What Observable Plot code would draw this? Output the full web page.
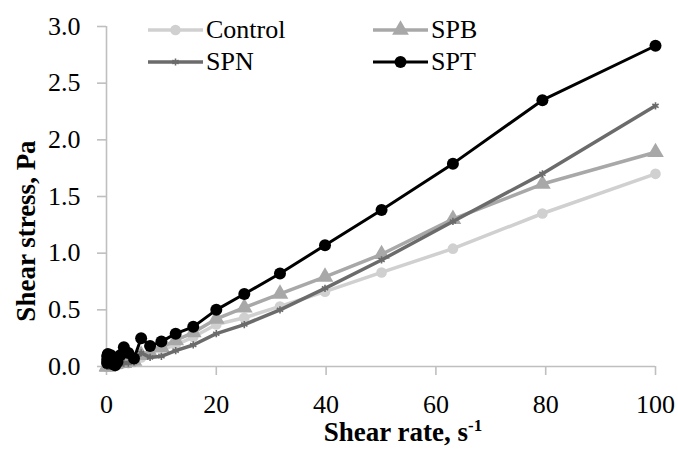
<!DOCTYPE html>
<html>
<head>
<meta charset="utf-8">
<script src="https://cdn.jsdelivr.net/npm/d3@7"></script>
<script src="https://cdn.jsdelivr.net/npm/@observablehq/plot@0.6"></script>
<style>
  html, body { margin: 0; padding: 0; background: #fff; }
  #wrap { position: relative; width: 678px; height: 450px; font-family: 'Liberation Serif', 'Times New Roman', Times, 'Nimbus Roman', 'DejaVu Serif', serif; }
  #wrap svg.plot { position: absolute; left: 0; top: 0; }
  #wrap svg.plot text { font-family: 'Liberation Serif', 'Times New Roman', Times, 'Nimbus Roman', 'DejaVu Serif', serif; }
  .ttl { position: absolute; font-weight: bold; font-size: 27px; white-space: nowrap; line-height: 1; color: #000; }
  .leg { position: absolute; display: flex; align-items: center; font-size: 26px; line-height: 1; white-space: nowrap; }
  .leg svg { display: block; margin-right: 3px; }
</style>
</head>
<body>
<div id="wrap"></div>
<script>
// Shear rate (s^-1), logarithmically spaced sweep
const shearRate = [0.1, 0.126, 0.158, 0.2, 0.251, 0.316, 0.398, 0.501, 0.631, 0.794,
  1, 1.26, 1.58, 2, 2.51, 3.16, 3.98, 5.01, 6.31, 7.94,
  10, 12.6, 15.8, 20, 25.1, 31.6, 39.8, 50.1, 63.1, 79.4, 100];
// Shear stress (Pa)
const control = [0, 0, 0, 0, 0, 0, 0, 0, 0, 0.01,
  0.01, 0.01, 0.02, 0.02, 0.02, 0.03, 0.03, 0.04, 0.08, 0.11,
  0.15, 0.19, 0.26, 0.37, 0.43, 0.53, 0.66, 0.83, 1.04, 1.35, 1.70];
const spb = [0, 0, 0, 0, 0, 0, 0.01, 0.01, 0.01, 0.01,
  0.02, 0.02, 0.02, 0.03, 0.03, 0.03, 0.04, 0.05, 0.10, 0.12,
  0.17, 0.23, 0.30, 0.42, 0.52, 0.64, 0.79, 0.99, 1.30, 1.61, 1.89];
const spn = [0, 0, 0, 0, 0, 0, 0, 0, 0, 0,
  0.01, 0.01, 0.01, 0.02, 0.02, 0.03, 0.03, 0.04, 0.12, 0.08,
  0.09, 0.14, 0.19, 0.29, 0.37, 0.50, 0.69, 0.94, 1.28, 1.70, 2.30];
const spt = [0.03, 0.06, 0.09, 0.10, 0.11, 0.10, 0.08, 0.06, 0.09, 0.10,
  0.06, 0.02, 0.01, 0.04, 0.10, 0.17, 0.12, 0.07, 0.25, 0.18,
  0.22, 0.29, 0.35, 0.50, 0.64, 0.82, 1.07, 1.38, 1.79, 2.35, 2.83];

const xTicks = [0, 20, 40, 60, 80, 100];
const yTicks = [0, 0.5, 1.0, 1.5, 2.0, 2.5, 3.0];

const seriesNames = ["Control", "SPB", "SPN", "SPT"];
const seriesValues = [control, spb, spn, spt];
const seriesColors = ["#d0d0d0", "#a8a8a8", "#6b6b6b", "#000000"];
const seriesSymbols = ["circle", "triangle", "asterisk", "circle"];
const seriesR = [5.3, 6.2, 3.4, 6];
const seriesWidth = [3.5, 3.5, 3.5, 3];

const series = seriesNames.map((name, i) => ({
  name, color: seriesColors[i], symbol: seriesSymbols[i], r: seriesR[i], w: seriesWidth[i],
  data: shearRate.map((x, j) => ({x, y: seriesValues[i][j]}))
}));

const FONT = "'Liberation Serif', 'Times New Roman', Times, 'Nimbus Roman', 'DejaVu Serif', serif";

const marks = [
  Plot.ruleY([0], {stroke: "#bfbfbf", strokeWidth: 1.6}),
  Plot.ruleX([0], {stroke: "#bfbfbf", strokeWidth: 1.6}),
  Plot.axisX({ticks: xTicks, tickSize: 9, tickPadding: 19, stroke: "#bfbfbf", strokeWidth: 1.6, fill: "#000", fontSize: 26, fontFamily: FONT, label: null, tickFormat: d3.format("d")}),
  Plot.axisY({ticks: yTicks, tickSize: 9, tickPadding: 17, stroke: "#bfbfbf", strokeWidth: 1.6, fill: "#000", fontSize: 26, fontFamily: FONT, label: null, tickFormat: d3.format(".1f")})
];
for (const s of series) {
  marks.push(Plot.line(s.data, {x: "x", y: "y", stroke: s.color, strokeWidth: s.w}));
  if (s.symbol === "asterisk") {
    marks.push(Plot.dot(s.data, {x: "x", y: "y", symbol: "asterisk", r: s.r, stroke: s.color, strokeWidth: 1.6}));
  } else {
    marks.push(Plot.dot(s.data, {x: "x", y: "y", symbol: s.symbol, r: s.r, fill: s.color, stroke: "none"}));
  }
}

const chart = Plot.plot({
  width: 678,
  height: 450,
  marginLeft: 106,
  marginRight: 23,
  marginTop: 26,
  marginBottom: 84,
  x: {domain: [0, 100], axis: null},
  y: {domain: [0, 3], axis: null},
  style: {fontFamily: FONT, fontSize: "26px", background: "#fff", color: "#000"},
  marks
});
chart.classList.add("plot");
const wrap = document.getElementById("wrap");
wrap.appendChild(chart);

// Axis titles
const xt = document.createElement("div");
xt.className = "ttl";
xt.innerHTML = "Shear rate, s<sup style='font-size:17px;vertical-align:10px'>-1</sup>";
xt.style.left = "403px"; xt.style.top = "417px"; xt.style.transform = "translateX(-50%)";
wrap.appendChild(xt);

const yt = document.createElement("div");
yt.className = "ttl";
yt.textContent = "Shear stress, Pa";
yt.style.left = "26px"; yt.style.top = "231px"; yt.style.transform = "translate(-50%,-50%) rotate(-90deg)";
wrap.appendChild(yt);

// Legend
const legPos = [[148, 30], [373, 30], [148, 62], [373, 62]];
series.forEach((s, i) => {
  const item = document.createElement("div");
  item.className = "leg";
  item.style.left = legPos[i][0] + "px";
  item.style.top = (legPos[i][1] - 13) + "px";
  item.style.height = "26px";
  const ns = "http://www.w3.org/2000/svg";
  const svg = document.createElementNS(ns, "svg");
  svg.setAttribute("width", 55); svg.setAttribute("height", 20);
  const ln = document.createElementNS(ns, "line");
  ln.setAttribute("x1", 0); ln.setAttribute("x2", 55); ln.setAttribute("y1", 10); ln.setAttribute("y2", 10);
  ln.setAttribute("stroke", s.color); ln.setAttribute("stroke-width", s.w);
  svg.appendChild(ln);
  const sym = d3.symbol(s.symbol === "circle" ? d3.symbolCircle : s.symbol === "triangle" ? d3.symbolTriangle : d3.symbolAsterisk, Math.PI * s.r * s.r)();
  const p = document.createElementNS(ns, "path");
  p.setAttribute("d", sym);
  p.setAttribute("transform", "translate(27.5,10)");
  if (s.symbol === "asterisk") { p.setAttribute("fill", "none"); p.setAttribute("stroke", s.color); p.setAttribute("stroke-width", 1.6); }
  else p.setAttribute("fill", s.color);
  svg.appendChild(p);
  item.appendChild(svg);
  const t = document.createElement("span");
  t.textContent = s.name;
  item.appendChild(t);
  wrap.appendChild(item);
});
</script>
</body>
</html>
